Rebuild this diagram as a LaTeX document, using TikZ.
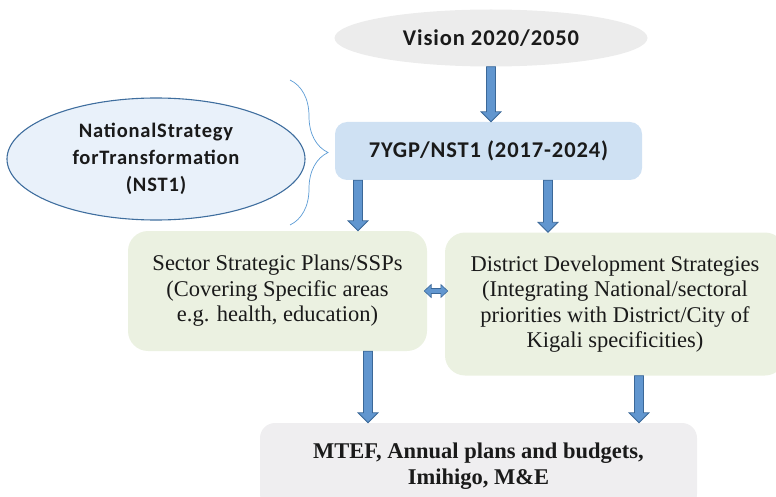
\documentclass[tikz,border=0pt]{standalone}
\usepackage{xcolor}
\usepackage{fontspec}
\setmainfont{Liberation Serif}
\setsansfont{Carlito}[LetterSpace=4]
\usetikzlibrary{calc,positioning,shapes.geometric,decorations.pathreplacing}

\definecolor{visiongray}{HTML}{ECECEC}
\definecolor{ygpblue}{HTML}{CFE1F3}
\definecolor{nstfill}{HTML}{E9F1FA}
\definecolor{nstedge}{HTML}{3F6E9E}
\definecolor{greenfill}{HTML}{EBF1E1}
\definecolor{bottomgray}{HTML}{EFEEF0}
\definecolor{arrowfill}{HTML}{6196CF}
\definecolor{arrowedge}{HTML}{3B6898}
\definecolor{bracecol}{HTML}{5B9BD5}
\definecolor{textcol}{HTML}{1A1A1A}

\tikzset{
  sanslabel/.style={font=\sffamily\bfseries\fontsize{22.5}{27}\selectfont, text=textcol, align=center},
  seriflabel/.style={font=\fontsize{22.5}{25.5}\selectfont, text=textcol, align=center},
  blockarrow/.style={draw=arrowedge, fill=arrowfill, line width=0.8pt,
    to path={let \p1=(\tikztostart), \p2=(\tikztotarget) in
      (\x1-4.5pt,\y1) -- (\x1+4.5pt,\y1) -- (\x1+4.5pt,\y2+10pt) -- (\x1+10pt,\y2+10pt)
      -- (\x1,\y2) -- (\x1-10pt,\y2+10pt) -- (\x1-4.5pt,\y2+10pt) -- cycle}},
  dblarrow/.style={draw=arrowedge, fill=arrowfill, line width=0.6pt,
    to path={let \p1=(\tikztostart), \p2=(\tikztotarget) in
      (\x1,\y1) -- (\x1+7pt,\y1+6.5pt) -- (\x1+7pt,\y1+2.5pt) -- (\x2-7pt,\y1+2.5pt)
      -- (\x2-7pt,\y1+6.5pt) -- (\x2,\y1) -- (\x2-7pt,\y1-6.5pt) -- (\x2-7pt,\y1-2.5pt)
      -- (\x1+7pt,\y1-2.5pt) -- (\x1+7pt,\y1-6.5pt) -- cycle}},
}

\begin{document}
\begin{tikzpicture}[x=1pt,y=-1pt]

\useasboundingbox (0,0) rectangle (776,497);

% Draw the top level
\node[ellipse, fill=visiongray, minimum width=313pt, minimum height=57pt, inner sep=0pt, sanslabel] (vision) at (491,38) {Vision 2020/2050};
\node[rectangle, rounded corners=12pt, fill=ygpblue, minimum width=307pt, minimum height=58pt, inner sep=0pt, sanslabel] (ygp) at (488.5,151) {7YGP/NST1 (2017-2024)};
\node[ellipse, fill=nstfill, draw=nstedge, line width=1.1pt, minimum width=298pt, minimum height=122pt, inner sep=0pt, sanslabel, font=\sffamily\bfseries\fontsize{20.5}{27}\selectfont] (nst) at (156,159) {NationalStrategy\\forTransformation\\(NST1)};

% Draw the plans
\node[rectangle, rounded corners=20pt, fill=greenfill, minimum width=299pt, minimum height=120pt, inner sep=0pt, seriflabel] (sector) at (277.5,291) {Sector Strategic Plans/SSPs\\(Covering Specific areas\\e.g. health, education)};
\node[rectangle, rounded corners=20pt, fill=greenfill, minimum width=340pt, minimum height=143pt, inner sep=0pt, seriflabel] (district) at (615,304) {District Development Strategies\\(Integrating National/sectoral\\priorities with District/City of\\Kigali specificities)};
\node[rectangle, rounded corners=15pt, fill=bottomgray, minimum width=437pt, minimum height=86pt, inner sep=0pt, seriflabel, font=\bfseries\fontsize{22.5}{25.5}\selectfont] (mtef) at (478.5,466) {MTEF, Annual plans and budgets,\\Imihigo, M\&E};

% Define the arrow feet
\coordinate (a1) at ([xshift=-130.5pt]ygp.south);
\coordinate (a2) at ([xshift=59.5pt]ygp.south);
\coordinate (a3) at ([xshift=90.5pt]sector.south);
\coordinate (a4) at ([xshift=24pt]district.south);
\coordinate (bracetop) at (290,80);
\coordinate (bracebot) at (290,225);

% Draw the arrows
\draw[blockarrow] (vision.south) to (ygp.north);
\draw[blockarrow] (a1) to (a1 |- sector.north);
\draw[blockarrow] (a2) to (a2 |- district.north);
\draw[blockarrow] (a3) to (a3 |- mtef.north);
\draw[blockarrow] (a4) to (a4 |- mtef.north);
\draw[dblarrow] ([xshift=-3pt]sector.east) to ([xshift=3pt]sector.east -| district.west);

% Draw the brace
\draw[bracecol, line width=0.7pt, decorate, decoration={brace, amplitude=38pt}] (bracetop) -- (bracebot);

\end{tikzpicture}
\end{document}
